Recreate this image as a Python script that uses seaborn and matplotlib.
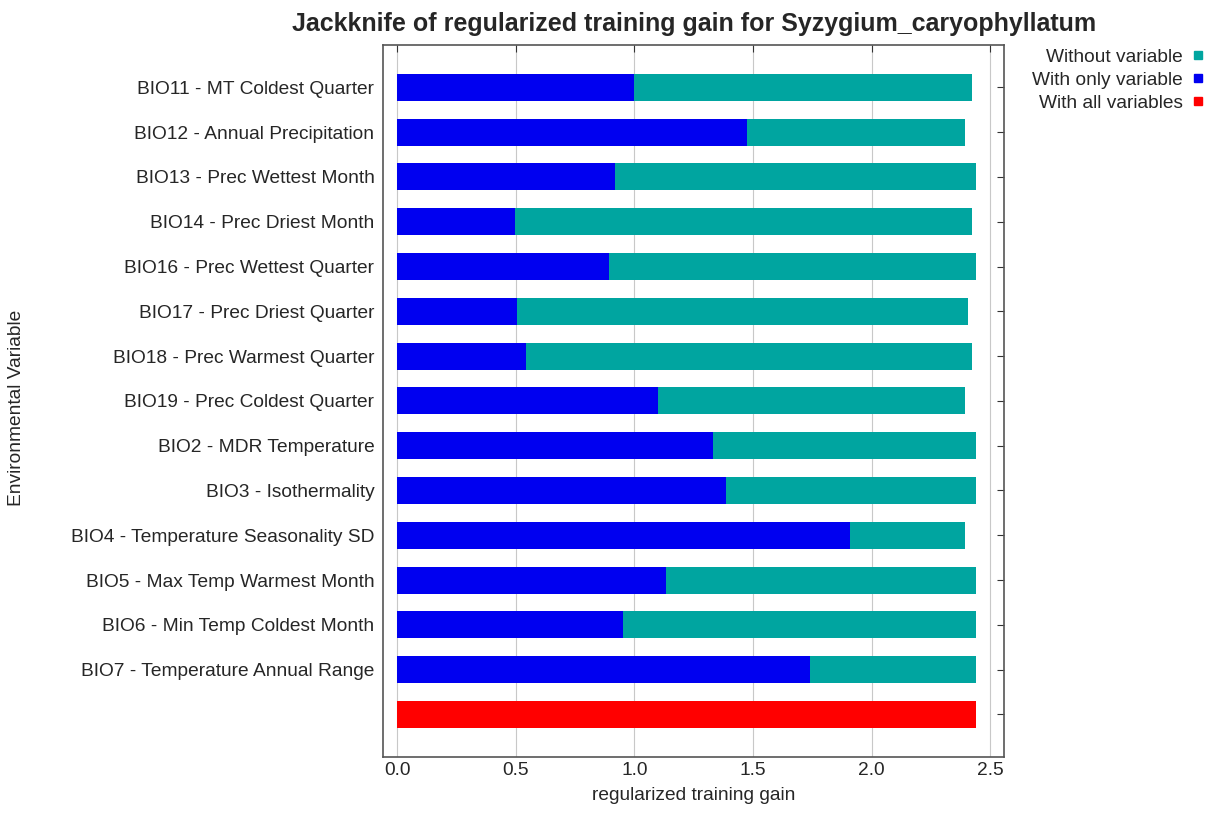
import matplotlib
matplotlib.use("Agg")
import matplotlib.pyplot as plt
import seaborn as sns
import pandas as pd
from matplotlib.lines import Line2D

variables = [
    "BIO11 - MT Coldest Quarter",
    "BIO12 - Annual Precipitation",
    "BIO13 - Prec Wettest Month",
    "BIO14 - Prec Driest Month",
    "BIO16 - Prec Wettest Quarter",
    "BIO17 - Prec Driest Quarter",
    "BIO18 - Prec Warmest Quarter",
    "BIO19 - Prec Coldest Quarter",
    "BIO2 - MDR Temperature",
    "BIO3 - Isothermality",
    "BIO4 - Temperature Seasonality SD",
    "BIO5 - Max Temp Warmest Month",
    "BIO6 - Min Temp Coldest Month",
    "BIO7 - Temperature Annual Range",
]
without_variable = [2.425, 2.392, 2.438, 2.425, 2.438, 2.405, 2.425, 2.392,
                    2.438, 2.438, 2.392, 2.438, 2.438, 2.438]
with_only_variable = [0.997, 1.477, 0.917, 0.497, 0.893, 0.505, 0.542, 1.10,
                      1.33, 1.388, 1.91, 1.133, 0.952, 1.742]
all_label = " "
with_all_variables = 2.438

order = variables + [all_label]

sns.set_style("white")
plt.rcParams["font.family"] = ["Liberation Sans", "DejaVu Sans"]

teal = "#00A5A0"
blue = "#0000F0"
red = "#FF0000"

df = pd.DataFrame({"variable": variables,
                   "without": without_variable,
                   "only": with_only_variable})
df_all = pd.DataFrame({"variable": [all_label], "gain": [with_all_variables]})

fig = plt.figure(figsize=(12.19, 8.14), dpi=100)
ax = fig.add_axes([0.314, 0.070, 0.510, 0.875])

for data, col, c in [(df, "without", teal), (df, "only", blue), (df_all, "gain", red)]:
    sns.barplot(data=data, x=col, y="variable", order=order, color=c,
                width=0.6, saturation=1, linewidth=0, ax=ax)

ax.set_xlim(-0.06, 2.56)
ax.set_ylim(14.95, -0.95)
ax.set_xticks([0.0, 0.5, 1.0, 1.5, 2.0, 2.5])
ax.set_xticklabels(["0.0", "0.5", "1.0", "1.5", "2.0", "2.5"])
ax.set_axisbelow(True)
ax.grid(axis="x", color="#c8c8c8", linewidth=0.8)
for s in ax.spines.values():
    s.set_visible(True)
    s.set_color("#555555")
    s.set_linewidth(1.2)
ax.tick_params(axis="both", direction="in", top=True, right=True,
               labelsize=13.8, length=5, color="#333333")
ax.tick_params(axis="y", pad=6)
ax.set_xlabel("regularized training gain", fontsize=13.8, labelpad=6)
ax.set_ylabel("Environmental Variable", fontsize=13.8)
ax.yaxis.set_label_coords(-0.575, 0.49)
ax.set_title("Jackknife of regularized training gain for Syzygium_caryophyllatum",
             fontsize=18, fontweight="bold", pad=10)

handles = [
    Line2D([], [], marker="s", linestyle="", color=teal, markersize=6),
    Line2D([], [], marker="s", linestyle="", color=blue, markersize=6),
    Line2D([], [], marker="s", linestyle="", color=red, markersize=6),
]
fig.legend(handles, ["Without variable", "With only variable", "With all variables"],
           loc="upper right", bbox_to_anchor=(1.005, 0.962), frameon=False,
           markerfirst=False, fontsize=13.8, handletextpad=0.3,
           labelspacing=0.3, handlelength=1.0)

fig.savefig("out.png", dpi=100)
